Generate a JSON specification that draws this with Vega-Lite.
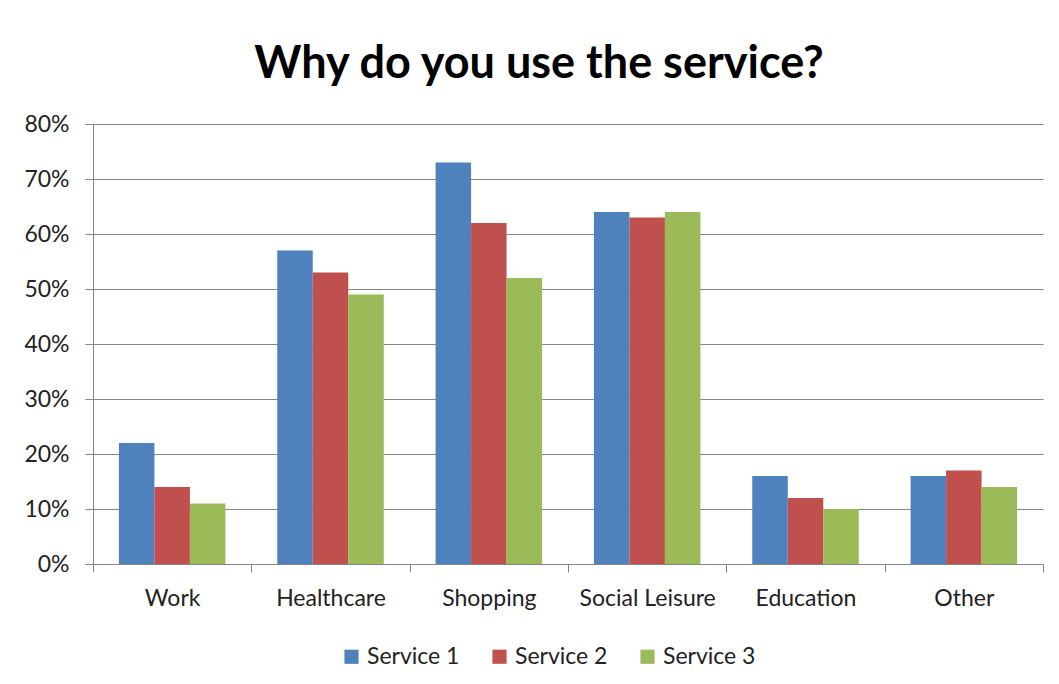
{
  "$schema": "https://vega.github.io/schema/vega-lite/v6.json",
  "autosize": {"type": "none"},
  "width": 950,
  "height": 440,
  "padding": {"left": 93, "top": 124, "right": 16, "bottom": 120},
  "background": "white",
  "title": {
    "text": "Why do you use the service?",
    "font": "Lato",
    "fontSize": 45,
    "fontWeight": "bold",
    "color": "#000000",
    "anchor": "middle",
    "offset": 26,
    "dx": -29
  },
  "data": {
    "values": [
      {"reason": "Work", "service": "Service 1", "value": 0.22},
      {"reason": "Work", "service": "Service 2", "value": 0.14},
      {"reason": "Work", "service": "Service 3", "value": 0.11},
      {"reason": "Healthcare", "service": "Service 1", "value": 0.57},
      {"reason": "Healthcare", "service": "Service 2", "value": 0.53},
      {"reason": "Healthcare", "service": "Service 3", "value": 0.49},
      {"reason": "Shopping", "service": "Service 1", "value": 0.73},
      {"reason": "Shopping", "service": "Service 2", "value": 0.62},
      {"reason": "Shopping", "service": "Service 3", "value": 0.52},
      {"reason": "Social Leisure", "service": "Service 1", "value": 0.64},
      {"reason": "Social Leisure", "service": "Service 2", "value": 0.63},
      {"reason": "Social Leisure", "service": "Service 3", "value": 0.64},
      {"reason": "Education", "service": "Service 1", "value": 0.16},
      {"reason": "Education", "service": "Service 2", "value": 0.12},
      {"reason": "Education", "service": "Service 3", "value": 0.10},
      {"reason": "Other", "service": "Service 1", "value": 0.16},
      {"reason": "Other", "service": "Service 2", "value": 0.17},
      {"reason": "Other", "service": "Service 3", "value": 0.14}
    ]
  },
  "mark": {"type": "bar"},
  "encoding": {
    "x": {
      "field": "reason",
      "type": "nominal",
      "sort": ["Work", "Healthcare", "Shopping", "Social Leisure", "Education", "Other"],
      "scale": {"paddingInner": 0, "paddingOuter": 0},
      "axis": {
        "title": null,
        "labelAngle": 0,
        "labelFont": "Lato",
        "labelFontSize": 23,
        "labelColor": "#222222",
        "labelPadding": 15,
        "bandPosition": 0,
        "tickBand": "extent",
        "domainColor": "#868686",
        "tickColor": "#868686",
        "tickSize": 8,
        "grid": false
      }
    },
    "xOffset": {
      "field": "service",
      "type": "nominal",
      "scale": {"paddingInner": 0, "paddingOuter": 0.73}
    },
    "y": {
      "field": "value",
      "type": "quantitative",
      "scale": {"domain": [0, 0.8]},
      "axis": {
        "title": null,
        "values": [0, 0.1, 0.2, 0.3, 0.4, 0.5, 0.6, 0.7, 0.8],
        "format": ".0%",
        "labelFont": "Lato",
        "labelFontSize": 23,
        "labelColor": "#222222",
        "labelPadding": 16,
        "domainColor": "#868686",
        "tickColor": "#868686",
        "tickSize": 8,
        "gridColor": "#868686",
        "gridWidth": 1
      }
    },
    "color": {
      "field": "service",
      "type": "nominal",
      "scale": {
        "domain": ["Service 1", "Service 2", "Service 3"],
        "range": ["#4F81BD", "#C0504D", "#9BBB59"]
      },
      "legend": {
        "title": null,
        "orient": "none",
        "legendX": 247,
        "legendY": 521,
        "direction": "horizontal",
        "symbolType": "square",
        "symbolSize": 200,
        "symbolStrokeWidth": 0,
        "labelFont": "Lato",
        "labelFontSize": 23,
        "labelColor": "#222222",
        "columnPadding": 28
      }
    }
  },
  "config": {
    "view": {"stroke": null},
    "axis": {"domainWidth": 1, "tickWidth": 1}
  }
}
